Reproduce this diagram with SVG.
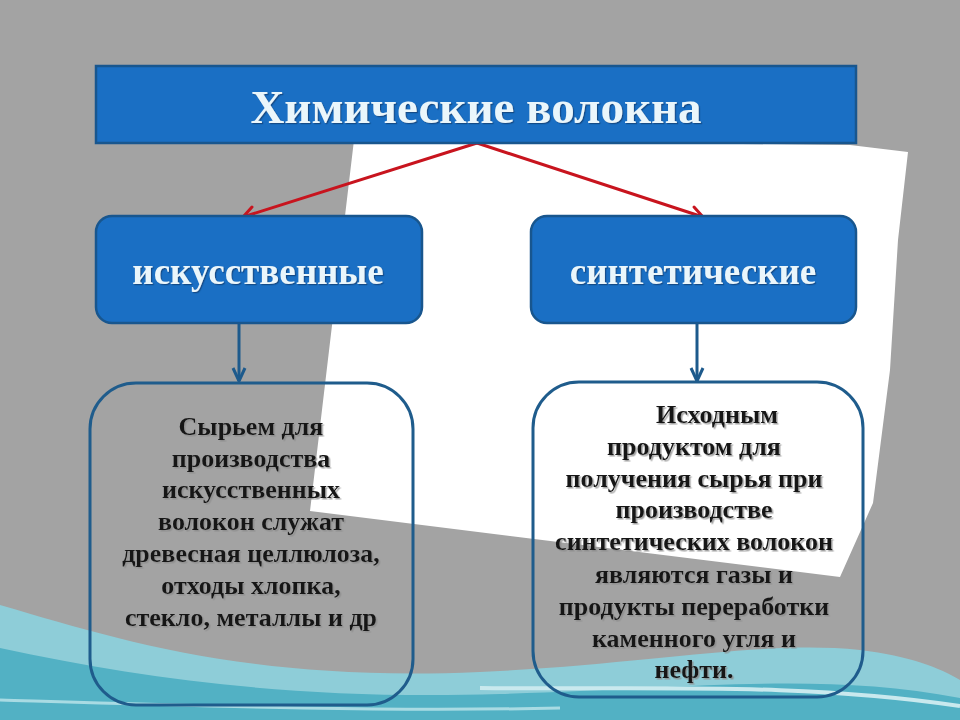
<svg xmlns="http://www.w3.org/2000/svg" width="960" height="720" viewBox="0 0 960 720">
<defs>
<filter id="shadow" x="-10%" y="-10%" width="120%" height="130%">
<feDropShadow dx="1.5" dy="1.5" stdDeviation="0.6" flood-color="#8a8a8a" flood-opacity="0.8"/>
</filter>
<filter id="lshadow" x="-10%" y="-10%" width="120%" height="130%">
<feDropShadow dx="1.2" dy="1.2" stdDeviation="0.6" flood-color="#0b3d6e" flood-opacity="0.7"/>
</filter>
</defs>
<style>
.top{fill:#1a6fc4;stroke:#18568e;stroke-width:2.5}
.cat{fill:#1a6fc4;stroke:#18568e;stroke-width:2.5}
.lab{font-family:"Liberation Serif",serif;font-weight:bold;fill:#eaf6fb;text-anchor:middle}
.box{fill:none;stroke:#1f5c8c;stroke-width:3}
.body{font-family:"Liberation Serif",serif;font-weight:bold;font-size:26px;fill:#161616;text-anchor:middle}
.red{stroke:#c8141e;stroke-width:3;fill:none;stroke-linecap:round;stroke-linejoin:round}
.blue{stroke:#1d5a8c;stroke-width:3;fill:none;stroke-linejoin:round}
</style>
<!-- background -->
<rect x="0" y="0" width="960" height="720" fill="#a3a3a3"/>
<path d="M0,605 C120,640 250,682 480,672 C650,664 760,640 860,650 C910,656 940,668 960,680 L960,720 L0,720 Z" fill="#8ecdd8"/>
<path d="M0,648 C150,680 300,700 500,694 C700,688 820,672 960,698 L960,720 L0,720 Z" fill="#52b1c4"/>
<path d="M480,688 C650,690 800,682 960,706" fill="none" stroke="#c9e9ee" stroke-width="4"/>
<path d="M0,700 C200,706 380,712 560,708" fill="none" stroke="#a9dbe3" stroke-width="3"/>
<path d="M354,140 L850,145 L908,152 L898,240 L890,370 L873,503 L840,577 L310,511 Z" fill="#ffffff"/>
<!-- connectors -->
<g id="connectors">
<line class="red" x1="477" y1="143" x2="243" y2="217"/>
<path class="red" d="M252,207 L243,217 L257,219"/>
<line class="red" x1="477" y1="143" x2="703" y2="217"/>
<path class="red" d="M689,219 L703,217 L694,207"/>
<line class="blue" x1="239" y1="323" x2="239" y2="381"/>
<path class="blue" d="M233,368 L239,381 L245,368"/>
<line class="blue" x1="697" y1="323" x2="697" y2="381"/>
<path class="blue" d="M691,368 L697,381 L703,368"/>
</g>
<g id="title">
<rect class="top" x="96" y="66" width="760" height="77"/>
<text class="lab" x="476" y="123" font-size="47" filter="url(#lshadow)">Химические волокна</text>
</g>
<g id="artificial">
<rect class="cat" x="96" y="216" width="326" height="107" rx="16"/>
<text class="lab" x="258" y="284" font-size="37" filter="url(#lshadow)">искусственные</text>
</g>
<g id="synthetic">
<rect class="cat" x="531" y="216" width="325" height="107" rx="16"/>
<text class="lab" x="693" y="284" font-size="37" filter="url(#lshadow)">синтетические</text>
</g>
<g id="artificial-desc">
<rect class="box" x="90" y="383" width="323" height="322" rx="46"/>
<g filter="url(#shadow)">
<text class="body" x="251" y="435">Сырьем для</text>
<text class="body" x="251" y="467">производства</text>
<text class="body" x="251" y="498">искусственных</text>
<text class="body" x="251" y="530">волокон служат</text>
<text class="body" x="251" y="562">древесная целлюлоза,</text>
<text class="body" x="251" y="594">отходы хлопка,</text>
<text class="body" x="251" y="626">стекло, металлы и др</text>
</g>
</g>
<g id="synthetic-desc">
<rect class="box" x="533" y="382" width="330" height="315" rx="46"/>
<g filter="url(#shadow)">
<text class="body" x="717" y="423">Исходным</text>
<text class="body" x="694" y="455">продуктом для</text>
<text class="body" x="694" y="487">получения сырья при</text>
<text class="body" x="694" y="518">производстве</text>
<text class="body" x="694" y="550">синтетических волокон</text>
<text class="body" x="694" y="583">являются газы и</text>
<text class="body" x="694" y="615">продукты переработки</text>
<text class="body" x="694" y="647">каменного угля и</text>
<text class="body" x="694" y="678">нефти.</text>
</g>
</g>
</svg>
